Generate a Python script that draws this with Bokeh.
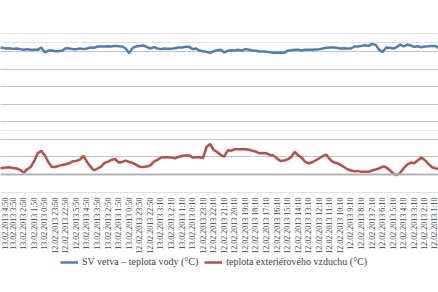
import math
from bokeh.plotting import figure
from bokeh.layouts import column
from bokeh.models import (Range1d, FixedTicker, SingleIntervalTicker, Grid, Span,
                          Legend, LegendItem, ColumnDataSource)
from bokeh.embed import file_html
from bokeh.resources import INLINE

# category labels (one every hour; data every 20 min -> 3 samples per label)
tick_labels = [
    "13.02.2013 4:50", "13.02.2013 3:50", "13.02.2013 2:50", "13.02.2013 1:50",
    "13.02.2013 0:50", "12.02.2013 23:50", "12.02.2013 22:50", "12.02.2013 5:50",
    "13.02.2013 4:50", "13.02.2013 3:50", "13.02.2013 2:50", "13.02.2013 1:50",
    "13.02.2013 0:50", "12.02.2013 23:50", "12.02.2013 22:50", "13.02.2013 3:10",
    "13.02.2013 2:10", "13.02.2013 1:10", "13.02.2013 0:10", "12.02.2013 23:10",
    "12.02.2013 22:10", "12.02.2013 21:10", "12.02.2013 20:10", "12.02.2013 19:10",
    "12.02.2013 18:10", "12.02.2013 17:10", "12.02.2013 16:10", "12.02.2013 15:10",
    "12.02.2013 14:10", "12.02.2013 13:10", "12.02.2013 12:10", "12.02.2013 11:10",
    "12.02.2013 10:10", "12.02.2013 9:10", "12.02.2013 8:10", "12.02.2013 7:10",
    "12.02.2013 6:10", "12.02.2013 5:10", "12.02.2013 4:10", "12.02.2013 3:10",
    "12.02.2013 2:10", "12.02.2013 1:10",
]

water_temp = [
    14.45, 14.42, 14.34, 14.38, 14.30, 14.34, 14.27, 14.19, 14.27, 14.19,
    14.19, 14.19, 14.45, 13.90, 14.11, 14.11, 14.04, 14.04, 14.11, 14.38,
    14.34, 14.27, 14.27, 14.34, 14.27, 14.34, 14.45, 14.42, 14.57, 14.57,
    14.57, 14.60, 14.57, 14.64, 14.60, 14.57, 14.34, 13.81, 14.42, 14.57,
    14.64, 14.68, 14.53, 14.34, 14.49, 14.34, 14.27, 14.34, 14.30, 14.30,
    14.38, 14.45, 14.45, 14.53, 14.53, 14.27, 14.34, 14.11, 14.04, 13.96,
    13.85, 14.04, 14.15, 14.19, 13.89, 14.08, 14.15, 14.11, 14.19, 14.11,
    14.27, 14.19, 14.11, 14.08, 14.00, 14.00, 13.96, 13.93, 13.85, 13.85,
    13.89, 13.85, 14.08, 14.15, 14.19, 14.19, 14.11, 14.19, 14.19, 14.19,
    14.23, 14.27, 14.34, 14.42, 14.45, 14.45, 14.42, 14.34, 14.38, 14.34,
    14.34, 14.57, 14.57, 14.64, 14.72, 14.64, 14.87, 14.76, 14.19, 13.96,
    14.45, 14.42, 14.34, 14.49, 14.79, 14.57, 14.79, 14.68, 14.53, 14.60,
    14.49, 14.57, 14.60, 14.64, 14.64, 14.34,
]

air_temp = [
    0.68, 0.75, 0.79, 0.83, 0.75, 0.68, 0.53, 0.22, 0.60, 0.83,
    1.51, 2.41, 2.71, 2.19, 1.43, 0.86, 0.86, 0.98, 1.09, 1.17,
    1.28, 1.51, 1.54, 1.70, 2.11, 1.43, 0.90, 0.45, 0.68, 0.90,
    1.32, 1.47, 1.66, 1.77, 1.36, 1.43, 1.58, 1.43, 1.32, 1.09,
    0.86, 0.86, 0.90, 1.05, 1.47, 1.66, 1.92, 1.96, 1.96, 1.92,
    1.85, 2.00, 2.11, 2.15, 2.19, 1.92, 1.96, 1.96, 1.88, 3.17,
    3.47, 2.79, 2.56, 2.22, 2.03, 2.75, 2.71, 2.87, 2.87, 2.87,
    2.87, 2.83, 2.71, 2.60, 2.41, 2.45, 2.41, 2.22, 2.15, 1.81,
    1.54, 1.58, 1.73, 1.96, 2.56, 2.19, 1.92, 1.43, 1.28, 1.39,
    1.62, 1.85, 2.11, 2.26, 1.73, 1.39, 1.32, 1.09, 0.86, 0.60,
    0.45, 0.37, 0.41, 0.30, 0.30, 0.30, 0.45, 0.56, 0.71, 0.90,
    0.83, 0.49, 0.11, -0.08, 0.19, 0.71, 1.13, 1.36, 1.28, 1.62,
    1.92, 1.62, 1.20, 0.83, 0.71, 0.60,
]

series_names = ["SV vetva \u2013 teplota vody (\u00b0C)",
                "teplota exteri\u00e9rov\u00e9ho vzduchu (\u00b0C)"]

WATER_COLOR = "#4a7ebb"
AIR_COLOR = "#be4b48"

SAMPLES_PER_LABEL = 3
sample_index = list(range(len(water_temp)))
tick_pos = [SAMPLES_PER_LABEL * j + 1 for j in range(len(tick_labels))]

src = ColumnDataSource(dict(x=sample_index, water=water_temp, air=air_temp))

p = figure(frame_width=438, frame_height=159,
           output_backend="svg", toolbar_location=None,
           x_range=Range1d(0.43, 124.87), y_range=Range1d(-2.05, 16.05),
           y_axis_location=None, min_border_top=33, min_border_left=0,
           min_border_right=0, min_border_bottom=0)
p.outline_line_color = None
p.background_fill_color = "white"
p.border_fill_color = "white"
p.xgrid.visible = False

grid = Grid(dimension=1, ticker=SingleIntervalTicker(interval=2),
            grid_line_color="#c4c4c4", grid_line_width=1)
p.add_layout(grid)

xa = p.xaxis[0]
xa.ticker = FixedTicker(ticks=tick_pos)
xa.major_label_overrides = {t: l for t, l in zip(tick_pos, tick_labels)}
xa.major_label_orientation = math.pi / 2
xa.axis_line_color = None
xa.major_tick_line_color = None
xa.minor_tick_line_color = None
xa.major_tick_out = 0
xa.major_label_standoff = 5
xa.major_label_text_font = "Liberation Serif"
xa.major_label_text_font_size = "8px"
xa.major_label_text_color = "#404040"

p.add_layout(Span(location=0, dimension="width", line_color="#a8a8a8", line_width=1))
p.add_layout(Span(location=0, dimension="width", line_color="#b8b8b8",
                  line_width=3, line_dash="1 1"))

p.line("x", "water", source=src, line_color=WATER_COLOR, line_width=2.5)
p.line("x", "air", source=src, line_color=AIR_COLOR, line_width=2.5)

# separate strip for the legend (series drawn outside its visible range)
lg = figure(width=438, height=12, output_backend="svg", toolbar_location=None,
            x_range=Range1d(0.43, 124.87), y_range=Range1d(100, 101),
            x_axis_location=None, y_axis_location=None,
            min_border_top=0, min_border_left=0, min_border_right=0,
            min_border_bottom=0)
lg.outline_line_color = None
lg.xgrid.visible = False
lg.ygrid.visible = False
l1 = lg.line("x", "water", source=src, line_color=WATER_COLOR, line_width=2.5)
l2 = lg.line("x", "air", source=src, line_color=AIR_COLOR, line_width=2.5)

legend = Legend(items=[LegendItem(label=series_names[0], renderers=[l1]),
                       LegendItem(label=series_names[1], renderers=[l2])],
                orientation="horizontal", location=(60, 1),
                label_text_font="Liberation Serif", label_text_font_size="10px",
                label_text_color="#404040", glyph_width=18, glyph_height=10,
                label_height=10, label_standoff=4, spacing=6, padding=0,
                margin=0, border_line_color=None, background_fill_alpha=0)
lg.add_layout(legend, "center")

layout = column(p, lg, spacing=0)
open("out.html", "w").write(file_html(layout, INLINE))
